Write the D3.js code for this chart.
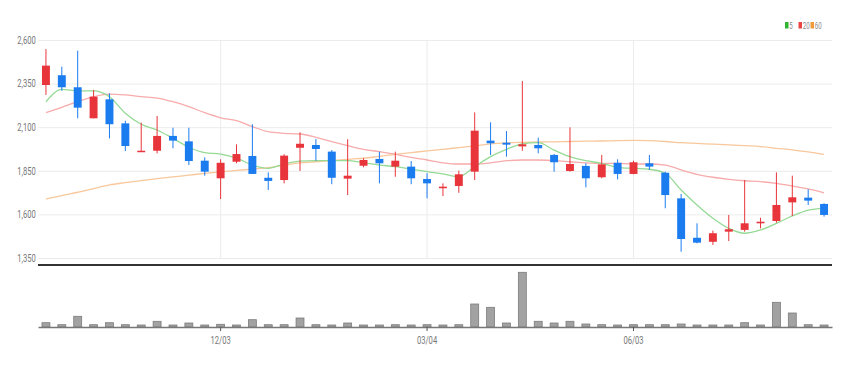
<!DOCTYPE html>
<html>
<head>
<meta charset="utf-8">
<script src="https://cdn.jsdelivr.net/npm/d3@7"></script>
<style>
  body { margin: 0; background: #fff; }
  text { font-family: 'Roboto', sans-serif; }
</style>
</head>
<body>
<div id="chart"></div>
<script>
// weekly candles (MM/DD of each week)
var dates = ["09/17","09/24","10/01","10/08","10/15","10/22","10/29","11/05","11/12","11/19",
  "11/26","12/03","12/10","12/17","12/24","12/31","01/07","01/14","01/21","01/28",
  "02/04","02/11","02/18","02/25","03/04","03/11","03/18","03/25","04/01","04/08",
  "04/15","04/22","04/29","05/06","05/13","05/20","05/27","06/03","06/10","06/17",
  "06/24","07/01","07/08","07/15","07/22","07/29","08/05","08/12","08/19","08/26"];

var openP = [2342,2398,2329,2151,2260,2122,1958,1965,2050,2019,
  1908,1807,1902,1935,1810,1797,1982,1998,1960,1805,
  1879,1918,1874,1874,1803,1750,1763,1845,2023,2011,
  1990,1998,1941,1849,1878,1813,1896,1832,1893,1839,
  1692,1466,1443,1501,1511,1549,1562,1669,1696,1660];
var highP = [2548,2447,2539,2313,2294,2137,2126,2164,2097,2097,
  1927,1916,2002,2117,1841,1945,2071,2032,1969,2031,
  1922,1960,1960,1906,1836,1778,1851,2185,2128,2078,
  2365,2040,1946,2099,1893,1941,1916,1908,1941,1845,
  1717,1549,1507,1597,1797,1581,1841,1822,1744,1664];
var lowP = [2285,2309,2151,2151,2036,1963,1958,1950,1979,1883,
  1822,1688,1893,1832,1740,1778,1849,1908,1773,1711,
  1870,1778,1816,1773,1692,1705,1724,1797,1940,1931,
  1965,1950,1845,1845,1755,1807,1801,1830,1855,1635,
  1386,1434,1425,1447,1501,1520,1552,1591,1654,1587];
var closeP = [2453,2329,2212,2275,2117,1992,1965,2050,2023,1906,
  1845,1896,1946,1832,1792,1937,2005,1975,1810,1822,
  1912,1893,1908,1807,1778,1759,1830,2080,2008,2000,
  2002,1979,1899,1889,1807,1887,1832,1899,1874,1711,
  1459,1438,1492,1515,1549,1558,1654,1698,1679,1597];

var volume = [43000,23000,107000,23000,43000,23000,17000,57000,17000,40000,
  17000,27000,17000,73000,23000,23000,90000,23000,17000,40000,
  7000,17000,23000,17000,23000,7000,23000,230000,197000,40000,
  547000,57000,40000,57000,30000,23000,7000,23000,23000,23000,
  30000,7000,7000,7000,43000,7000,247000,140000,23000,7000];

// moving averages as drawn
var ma5 = [2246,2317,2308,2308,2275,2180,2117,2084,2036,1985,
  1954,1946,1923,1883,1864,1889,1906,1908,1908,1908,
  1896,1883,1874,1859,1845,1832,1816,1874,1931,1973,
  2004,2011,1969,1931,1908,1893,1870,1864,1859,1836,
  1740,1654,1578,1520,1492,1511,1549,1591,1625,1635];
var ma20 = [2183,2214,2246,2275,2290,2285,2275,2267,2246,2218,
  2183,2154,2137,2103,2074,2065,2061,2042,2017,1994,
  1973,1960,1945,1927,1912,1896,1889,1889,1896,1908,
  1912,1912,1908,1902,1896,1893,1893,1889,1889,1883,
  1855,1830,1813,1801,1793,1788,1778,1763,1746,1724];
var ma60 = [1688,1708,1727,1748,1769,1782,1794,1805,1815,1825,
  1835,1844,1852,1860,1868,1882,1895,1902,1909,1916,
  1922,1933,1944,1954,1964,1973,1983,1993,2004,2010,
  2013,2015,2016,2018,2020,2021,2023,2024,2023,2018,
  2011,2007,2003,1999,1994,1989,1979,1970,1958,1944];

var priceTicks = [1350,1600,1850,2100,2350,2600];
var dateTicks = ["12/03","03/04","06/03"];
var legendNames = ["5","20","60"];

var width = 849, height = 368;
var left = 38, right = 832;
var upColor = "#e8353b", downColor = "#1b7cf0";
var maColors = ["#95da95","#f7abab","#f8c79b"];
var legendColors = ["#2fb52f","#e84545","#f09a3a"];

var svg = d3.select("#chart").append("svg")
    .attr("width", width)
    .attr("height", height);

var x = d3.scaleBand()
    .domain(dates)
    .range([left, right])
    .paddingInner(0.5)
    .paddingOuter(0.25);

var y = d3.scaleLinear()
    .domain([1350, 2600])
    .range([258, 40]);

var yv = d3.scaleLinear()
    .domain([0, 560000])
    .range([327, 271]);

function cx(i) { return x(dates[i]) + x.bandwidth() / 2; }

// price gridlines + labels (labels squeezed to look condensed)
var yAxis = svg.append("g")
    .attr("transform", "translate(" + left + ",0)")
    .call(d3.axisLeft(y)
      .tickValues(priceTicks)
      .tickFormat(d3.format(","))
      .tickSize(-(right - left))
      .tickPadding(3));
yAxis.select(".domain").remove();
yAxis.selectAll(".tick line")
    .attr("stroke", "#ececec");
yAxis.selectAll(".tick text")
    .attr("fill", "#777")
    .attr("transform", "scale(0.76,1)")
    .style("font-size", "10px");

// vertical gridlines at the date ticks
svg.append("g").selectAll("line")
    .data(dateTicks)
  .enter().append("line")
    .attr("x1", function(d) { return x(d) + x.bandwidth() / 2; })
    .attr("x2", function(d) { return x(d) + x.bandwidth() / 2; })
    .attr("y1", 40)
    .attr("y2", 258)
    .attr("stroke", "#ececec");

// moving average lines
var maLine = d3.line()
    .x(function(d, i) { return cx(i); })
    .y(function(d) { return y(d); })
    .curve(d3.curveMonotoneX);

svg.append("g").selectAll("path")
    .data([ma60, ma20, ma5])
  .enter().append("path")
    .attr("fill", "none")
    .attr("stroke", function(d, i) { return [maColors[2], maColors[1], maColors[0]][i]; })
    .attr("stroke-width", 1.3)
    .attr("d", maLine);

// candles
var candle = svg.append("g").selectAll("g")
    .data(dates)
  .enter().append("g");

candle.append("line")
    .attr("x1", function(d, i) { return cx(i); })
    .attr("x2", function(d, i) { return cx(i); })
    .attr("y1", function(d, i) { return y(highP[i]); })
    .attr("y2", function(d, i) { return y(lowP[i]); })
    .attr("stroke", function(d, i) { return closeP[i] >= openP[i] ? upColor : downColor; })
    .attr("stroke-width", 1);

candle.append("rect")
    .attr("x", function(d) { return x(d); })
    .attr("width", x.bandwidth())
    .attr("y", function(d, i) { return y(Math.max(openP[i], closeP[i])); })
    .attr("height", function(d, i) {
      return Math.max(1.5, Math.abs(y(openP[i]) - y(closeP[i])));
    })
    .attr("fill", function(d, i) { return closeP[i] >= openP[i] ? upColor : downColor; });

// bottom line of the price panel
svg.append("line")
    .attr("x1", left)
    .attr("x2", right)
    .attr("y1", 265)
    .attr("y2", 265)
    .attr("stroke", "#333")
    .attr("stroke-width", 2);

// volume bars
svg.append("g").selectAll("rect")
    .data(volume)
  .enter().append("rect")
    .attr("x", function(d, i) { return x(dates[i]); })
    .attr("width", x.bandwidth())
    .attr("y", function(d) { return Math.min(yv(d), 325); })
    .attr("height", function(d) { return Math.max(327 - yv(d), 2); })
    .attr("fill", "#a2a2a2")
    .attr("stroke", "#7c7c7c")
    .attr("stroke-width", 0.8);

// volume x axis
var xAxis = svg.append("g")
    .attr("transform", "translate(0,327)")
    .call(d3.axisBottom(x)
      .tickValues(dateTicks)
      .tickSize(4)
      .tickPadding(6)
      .tickSizeOuter(0));
xAxis.select(".domain")
    .attr("stroke", "#777")
    .attr("stroke-width", 1.5);
xAxis.selectAll(".tick line")
    .attr("stroke", "#555");
xAxis.selectAll(".tick text")
    .attr("fill", "#777")
    .attr("transform", "scale(0.76,1)")
    .style("font-size", "10px");

// legend
var legend = svg.append("g").selectAll("g")
    .data(legendNames)
  .enter().append("g")
    .attr("transform", function(d, i) { return "translate(" + [785, 798.5, 810.5][i] + ",22)"; });

legend.append("rect")
    .attr("width", 3.5)
    .attr("height", 6.5)
    .attr("fill", function(d, i) { return legendColors[i]; });

legend.append("text")
    .attr("x", 6)
    .attr("y", 6.7)
    .attr("fill", "#888")
    .attr("transform", "scale(0.72,1)")
    .style("font-size", "8.5px")
    .text(function(d) { return d; });
</script>
</body>
</html>
